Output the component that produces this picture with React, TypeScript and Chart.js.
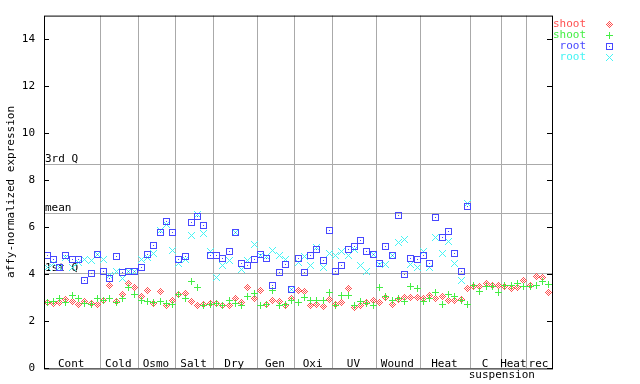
import React, { useEffect, useRef } from "react";
import { Chart, registerables } from "chart.js";

Chart.register(...registerables);

// ---- data ----
const groupBounds = [0, 9, 15, 21, 27, 34, 40, 46, 53, 60, 68, 73, 77, 81];
const groupLabels = ["Cont", "Cold", "Osmo", "Salt", "Dry", "Gen", "Oxi", "UV", "Wound", "Heat", "C", "Heat", "rec"];
const subLabel = "suspension";
const subLabelAt = 73;

const quartileLabels = ["3rd Q", "mean", "1st Q"];
const quartileValues = [8.67, 6.6, 4.07];

const seriesNames = ["shoot", "shoot", "root", "root"];

const shootRed = [
  2.79, 2.75, 2.79, 2.95, 2.86, 2.71, 2.83, 2.75, 2.71,
  2.88, 3.51, 2.83, 3.13, 3.6, 3.43,
  3.05, 3.3, 2.75, 3.26, 2.67, 2.88,
  3.13, 3.17, 2.83, 2.67, 2.73, 2.77,
  2.75, 2.67, 2.67, 2.96, 2.79, 3.43, 2.96,
  3.3, 2.71, 2.88, 2.85, 2.67, 2.96,
  3.3, 3.26, 2.67, 2.71, 2.63, 2.92,
  2.71, 2.79, 3.38, 2.58, 2.67, 2.79, 2.88,
  2.79, 3.0, 2.71, 2.92, 3.0, 3.0, 3.0,
  2.96, 3.09, 2.96, 3.05, 2.88, 2.88, 2.92, 3.38,
  3.47, 3.47, 3.6, 3.51, 3.51,
  3.47, 3.38, 3.43, 3.72,
  3.51, 3.89, 3.85, 3.21,
];

const shootGreen = [
  2.79, 2.83, 2.97, 2.79, 3.09, 2.97, 2.75, 2.71, 2.97,
  2.88, 2.97, 2.79, 2.97, 3.43, 3.13,
  2.88, 2.83, 2.79, 2.83, 2.75, 2.71,
  3.13, 2.97, 3.68, 3.43, 2.69, 2.71,
  2.75, 2.69, 2.9, 2.75, 2.67, 3.05, 3.17,
  2.67, 2.71, 3.3, 2.67, 2.73, 2.88,
  2.79, 3.0, 2.88, 2.88, 2.88, 3.21,
  2.67, 3.09, 3.09, 2.67, 2.83, 2.75, 2.67,
  3.43, 3.05, 2.88, 2.96, 2.83, 3.47, 3.38,
  2.83, 2.96, 3.21, 2.71, 3.13, 3.05, 2.88, 2.71,
  3.51, 3.26, 3.47, 3.47, 3.21,
  3.51, 3.51, 3.6, 3.47,
  3.47, 3.51, 3.68, 3.55,
];

const rootBlue = [
  4.82, 4.65, 4.3, 4.78, 4.61, 4.65, 3.72, 4.02, 4.86,
  4.1, 3.81, 4.74, 4.06, 4.14, 4.14,
  4.27, 4.86, 5.24, 5.77, 6.26, 5.79,
  4.65, 4.74, 6.21, 6.47, 6.09, 4.82,
  4.78, 4.69, 4.99, 5.76, 4.48, 4.36, 4.65,
  4.86, 4.69, 3.51, 4.06, 4.4, 3.34,
  4.69, 4.06, 4.82, 5.07, 4.57, 5.88,
  4.14, 4.36, 5.07, 5.2, 5.45, 4.99, 4.86,
  4.44, 5.2, 4.78, 6.51, 3.98, 4.69, 4.65,
  4.78, 4.48, 6.43, 5.58, 5.83, 4.9, 4.14, 6.89,
  null, null, null, null, null,
  null, null, null, null,
  null, null, null, null,
];

const rootCyan = [
  4.27, 4.44, 4.3, 4.73, 4.3, 4.52, 4.65, 4.57, 4.86,
  4.65, 3.93, 4.1, 3.81, 4.14, 4.14,
  4.61, 4.73, 4.9, 5.88, 6.13, 5.03,
  4.44, 4.61, 5.67, 6.55, 5.75, 4.99,
  3.85, 4.36, 4.57, 5.78, 4.19, 4.57, 5.28,
  4.78, 4.74, 5.03, 4.78, 4.61, 3.34,
  4.52, 4.74, 4.36, 5.16, 4.27, 4.9,
  4.82, 4.99, 4.78, 5.07, 4.36, 4.14, 4.86,
  4.42, 4.4, 4.78, 5.37, 5.5, 4.4, 4.31,
  4.95, 4.31, 5.58, 4.9, 5.41, 4.44, 3.72, 7.02,
  null, null, null, null, null,
  null, null, null, null,
  null, null, null, null,
];

// ---- styling ----
const FONT_FAMILY = "'DejaVu Sans Mono', monospace";
const FONT = `11px ${FONT_FAMILY}`;
const RED = "#ff5050";
const GREEN = "#44ee44";
const BLUE = "#4848ff";
const CYAN = "#44f4f4";

function makeMarker(kind: string, color: string): HTMLCanvasElement {
  const c = document.createElement("canvas");
  c.width = 7;
  c.height = 7;
  const g = c.getContext("2d")!;
  g.fillStyle = color;
  const px = (x: number, y: number) => g.fillRect(x, y, 1, 1);
  for (let dy = -3; dy <= 3; dy++) {
    for (let dx = -3; dx <= 3; dx++) {
      const x = dx + 3;
      const y = dy + 3;
      const m = Math.abs(dx) + Math.abs(dy);
      if (kind === "diamond") {
        if (m <= 3 && m % 2 === 1) px(x, y);
      } else if (kind === "plus") {
        if (dx === 0 || dy === 0) px(x, y);
      } else if (kind === "square") {
        if (Math.abs(dx) === 3 || Math.abs(dy) === 3 || (dx === 0 && dy === 0)) px(x, y);
      } else if (kind === "cross") {
        if (Math.abs(dx) === Math.abs(dy)) px(x, y);
      }
    }
  }
  return c;
}

const toPoints = (arr: (number | null)[]) =>
  arr
    .map((v, i) => (v == null ? null : { x: i + 0.5, y: v }))
    .filter((p) => p !== null) as { x: number; y: number }[];

export default function App() {
  const ref = useRef<HTMLCanvasElement | null>(null);

  useEffect(() => {
    if (!ref.current) return;
    const markers = [
      makeMarker("diamond", RED),
      makeMarker("plus", GREEN),
      makeMarker("square", BLUE),
      makeMarker("cross", CYAN),
    ];
    const colors = [RED, GREEN, BLUE, CYAN];
    const seriesData = [shootRed, shootGreen, rootBlue, rootCyan];
    const orders = [4, 3, 1, 2];

    const overlay = {
      id: "overlay",
      beforeDatasetsDraw(chart: any) {
        const { ctx, chartArea: a, scales } = chart;
        const x = scales.x;
        const y = scales.y;
        ctx.save();
        ctx.strokeStyle = "#aaaaaa";
        ctx.lineWidth = 1;
        ctx.font = FONT;
        ctx.fillStyle = "#000";
        ctx.textAlign = "left";
        ctx.textBaseline = "bottom";
        quartileValues.forEach((v, k) => {
          const py = Math.round(y.getPixelForValue(v)) + 0.5;
          ctx.beginPath();
          ctx.moveTo(a.left, py);
          ctx.lineTo(a.right, py);
          ctx.stroke();
          ctx.fillText(quartileLabels[k], a.left + 1, py);
        });
        ctx.textAlign = "center";
        ctx.textBaseline = "alphabetic";
        groupLabels.forEach((lab, k) => {
          const cx = (x.getPixelForValue(groupBounds[k]) + x.getPixelForValue(groupBounds[k + 1])) / 2;
          ctx.fillText(lab, cx - 1, a.bottom - 1.5);
        });
        ctx.fillText(subLabel, x.getPixelForValue(subLabelAt), a.bottom + 10);
        ctx.restore();
        ctx.imageSmoothingEnabled = false;
      },
      afterDraw(chart: any) {
        const { ctx, chartArea: a, scales } = chart;
        const y = scales.y;
        ctx.save();
        ctx.strokeStyle = "#000";
        ctx.lineWidth = 1;
        ctx.strokeRect(a.left + 0.5, a.top + 0.5, a.right - a.left, a.bottom - a.top);
        ctx.beginPath();
        y.ticks.forEach((t: any) => {
          const py = Math.round(y.getPixelForValue(t.value)) + 0.5;
          ctx.moveTo(a.left, py);
          ctx.lineTo(a.left + 5, py);
          ctx.moveTo(a.right - 5, py);
          ctx.lineTo(a.right + 1, py);
        });
        ctx.stroke();
        // legend
        ctx.font = FONT;
        ctx.textAlign = "right";
        ctx.textBaseline = "middle";
        ctx.imageSmoothingEnabled = false;
        seriesNames.forEach((name, k) => {
          const ly = 24 + k * 11;
          ctx.fillStyle = colors[k];
          ctx.fillText(name, 586, ly);
          ctx.drawImage(markers[k], 609 - 3, Math.round(ly) - 3);
        });
        ctx.restore();
      },
    };

    const chart = new Chart(ref.current, {
      type: "scatter",
      data: {
        datasets: seriesData.map((arr, k) => ({
          label: seriesNames[k],
          data: toPoints(arr),
          pointStyle: markers[k] as any,
          pointRadius: 3.5,
          borderColor: colors[k],
          backgroundColor: colors[k],
          order: orders[k],
          showLine: false,
        })),
      },
      options: {
        animation: false,
        responsive: false,
        devicePixelRatio: 1,
        layout: { padding: { left: 0, top: 13, right: 88, bottom: 15 } },
        plugins: { legend: { display: false }, tooltip: { enabled: false } },
        events: [],
        scales: {
          x: {
            type: "linear",
            min: 0,
            max: 81,
            afterBuildTicks: (scale: any) => {
              scale.ticks = groupBounds.slice(1, -1).map((v) => ({ value: v }));
            },
            afterFit: (scale: any) => {
              scale.height = 0;
            },
            ticks: { display: false },
            grid: { color: "#aaaaaa", lineWidth: 1, drawTicks: false },
            border: { display: false },
          },
          y: {
            type: "linear",
            min: 0,
            max: 15,
            afterFit: (scale: any) => {
              scale.width = 44;
            },
            ticks: {
              stepSize: 2,
              includeBounds: false,
              padding: 9,
              color: "#000",
              font: { family: FONT_FAMILY, size: 11 },
            },
            grid: { display: false, drawTicks: false },
            border: { display: false },
            title: {
              display: true,
              text: "affy-normalized expression",
              color: "#000",
              font: { family: FONT_FAMILY, size: 11 },
              padding: { top: 5, bottom: 0 },
            },
          },
        },
      },
      plugins: [overlay],
    } as any);

    return () => chart.destroy();
  }, []);

  return (
    <div style={{ position: "absolute", left: 0, top: 0, width: 640, height: 384, background: "#fff" }}>
      <canvas ref={ref} width={640} height={384} />
    </div>
  );
}
